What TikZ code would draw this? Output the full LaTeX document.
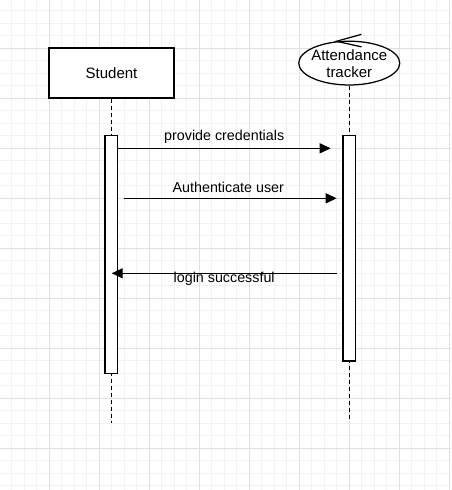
\documentclass[tikz,border=0pt]{standalone}
\usepackage{fontspec}
\setmainfont{Liberation Sans}
\usetikzlibrary{arrows.meta,shapes.geometric,calc}
\definecolor{gridminor}{RGB}{242,242,242}
\definecolor{gridmajor}{RGB}{224,224,224}

\tikzset{
  lifebox/.style={draw,line width=1.25pt,fill=white,minimum width=125pt,minimum height=50pt,inner sep=0pt},
  ctrlshape/.style={ellipse,draw,line width=1.25pt,fill=white,minimum width=101pt,minimum height=43.75pt,inner sep=0pt},
  actbar/.style={draw,line width=1.25pt,fill=white,minimum width=12.5pt,inner sep=0pt},
  lifeline/.style={line width=1.25pt,dash pattern=on 4pt off 3pt},
  msg/.style={line width=1.25pt,-{Triangle[length=11pt,width=10pt]}},
  msglabel/.style={font=\fontsize{14.3}{17}\selectfont,inner sep=0pt}
}

\begin{document}
\begin{tikzpicture}[x=1pt,y=-1pt]
\useasboundingbox (0,0) rectangle (451,490);
\fill[white] (0,0) rectangle (451,490);
% background grid
\foreach \gx in {-0.7,11.8,...,451} \draw[gridminor,line width=0.75pt] (\gx,0) -- (\gx,490);
\foreach \gy in {-1.7,10.8,...,490} \draw[gridminor,line width=0.75pt] (0,\gy) -- (451,\gy);
\foreach \gx in {-0.7,49.3,...,451} \draw[gridmajor,line width=0.75pt] (\gx,0) -- (\gx,490);
\foreach \gy in {-1.7,48.3,...,490} \draw[gridmajor,line width=0.75pt] (0,\gy) -- (451,\gy);

% participants
\node[lifebox,font=\fontsize{15}{17}\selectfont] (student) at (111.5,73) {Student};
\node[ctrlshape] (tracker) at (349.25,63.1) {};
\node[font=\fontsize{15}{17}\selectfont,align=center,inner sep=0pt] (trackerlbl) at ([yshift=-0.5pt]tracker.center) {Attendance\\tracker};
\draw[line width=1.25pt] ([xshift=12.25pt,yshift=6.25pt]tracker.north) -- ([xshift=-12.75pt,yshift=-0.65pt]tracker.north)
  -- ([xshift=12.25pt,yshift=-6.25pt]tracker.north);

% lifelines
\coordinate (studentend) at (111.5,423);
\coordinate (trackerend) at (349.25,420);
\draw[lifeline] (student.south) -- (studentend);
\draw[lifeline] (tracker.south) -- (trackerend);

% activation bars
\node[actbar,minimum height=237.8pt] (sbar) at (111.25,254.4) {};
\node[actbar,minimum height=225.5pt] (tbar) at (349.25,248.25) {};

% messages
\coordinate (m1end) at (330.7,148.3);
\draw[msg] (sbar.east |- m1end) -- (m1end);
\node[msglabel] (m1lbl) at (224.2,137) {provide credentials};

\coordinate (m2start) at (124.3,198.3);
\coordinate (m2end) at (336.7,198.3);
\draw[msg] (m2start) -- (m2end);
\node[msglabel] (m2lbl) at (228.3,187) {Authenticate user};

\coordinate (m3start) at (336.7,273.3);
\coordinate (m3end) at (111.7,273.3);
\draw[msg] (m3start) -- (m3end);
\node[msglabel] (m3lbl) at (224.2,278.5) {login successful};
\end{tikzpicture}
\end{document}
